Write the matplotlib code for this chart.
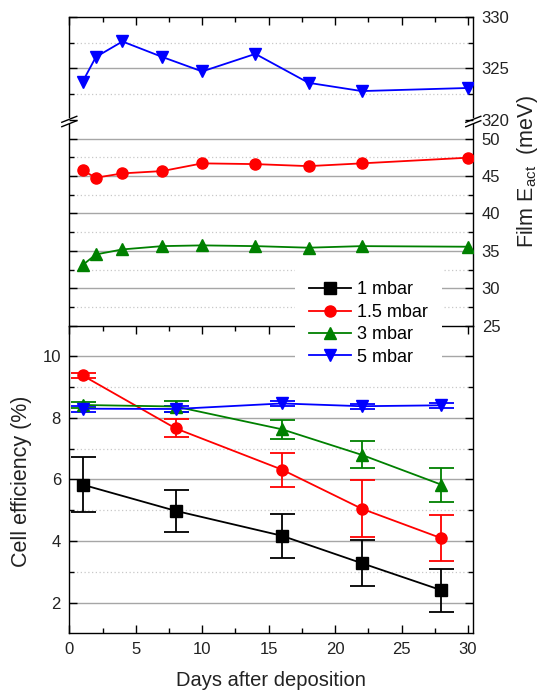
import matplotlib
matplotlib.use("Agg")
import matplotlib.pyplot as plt
from matplotlib.lines import Line2D
from matplotlib.ticker import MultipleLocator, FixedLocator

plt.rcParams['font.family'] = ['Liberation Sans', 'DejaVu Sans']
plt.rcParams['mathtext.fontset'] = 'custom'
plt.rcParams['mathtext.rm'] = 'Liberation Sans'
plt.rcParams['mathtext.it'] = 'Liberation Sans:italic'

# ---- data -------------------------------------------------------------
labels = ['1 mbar', '1.5 mbar', '3 mbar', '5 mbar']
colors = ['#000000', '#ff0000', '#008000', '#0000ff']
markers = ['s', 'o', '^', 'v']

# Cell efficiency (%) vs days after deposition
days_eff = [1, 8, 16, 22, 28]
eff_1 = [5.83, 4.98, 4.17, 3.28, 2.40]
err_1 = [0.90, 0.69, 0.71, 0.74, 0.70]
eff_15 = [9.38, 7.66, 6.32, 5.05, 4.09]
err_15 = [0.09, 0.29, 0.55, 0.93, 0.74]
eff_3 = [8.42, 8.37, 7.63, 6.80, 5.83]
err_3 = [0.10, 0.18, 0.30, 0.44, 0.55]
eff_5 = [8.30, 8.29, 8.47, 8.38, 8.41]
err_5 = [0.10, 0.10, 0.08, 0.08, 0.08]

# Film activation energy (meV) vs days after deposition
days_ea = [1, 2, 4, 7, 10, 14, 18, 22, 30]
ea_15 = [45.76, 44.78, 45.36, 45.67, 46.70, 46.60, 46.33, 46.70, 47.46]
ea_3 = [33.09, 34.52, 35.19, 35.63, 35.73, 35.63, 35.42, 35.63, 35.55]
ea_5 = [323.7, 326.1, 327.6, 326.1, 324.7, 326.4, 323.6, 322.8, 323.1]

# ---- figure layout (pixel boxes, measured from the top-left) ----------
W, H = 541, 696
fig = plt.figure(figsize=(W / 100, H / 100), dpi=100)


def box(x0, y0, x1, y1):
    return [x0 / W, 1 - y1 / H, (x1 - x0) / W, (y1 - y0) / H]


L, R = 69.3, 473.3
ax_eff = fig.add_axes(box(L, 325.6, R, 633.3))
ax_mid = fig.add_axes(box(L, 120.0, R, 325.6))
ax_top = fig.add_axes(box(L, 16.7, R, 120.0))

tick_color = '#222222'
for ax in (ax_eff, ax_mid, ax_top):
    ax.set_xlim(0, 30.4)
    ax.xaxis.set_major_locator(MultipleLocator(5))
    ax.xaxis.set_minor_locator(MultipleLocator(2.5))
    ax.tick_params(which='both', direction='in', width=1.0,
                   labelsize=12, pad=6, labelcolor=tick_color)
    ax.tick_params(which='major', length=6)
    ax.tick_params(which='minor', length=3.5)
    for sp in ax.spines.values():
        sp.set_linewidth(1.0)

major_grid = dict(color='#a6a6a6', lw=1.0, zorder=0.5)
minor_grid = dict(color='#c8c8c8', lw=0.9, ls=(0, (1, 2)), zorder=0.5)

# ---- bottom panel: cell efficiency -------------------------------------
ax_eff.set_ylim(1, 11)
eff_major = [2, 4, 6, 8, 10]
eff_minor = [3, 5, 7, 9]
ax_eff.yaxis.set_major_locator(FixedLocator(eff_major))
ax_eff.yaxis.set_minor_locator(FixedLocator(eff_minor))
ax_eff.tick_params(axis='x', which='both', top=True, bottom=True)
ax_eff.tick_params(axis='y', which='both', left=True, right=True)
for v in eff_major:
    ax_eff.axhline(v, **major_grid)
for v in eff_minor:
    ax_eff.axhline(v, **minor_grid)

handles = []
for y, e, c, m in zip([eff_1, eff_15, eff_3, eff_5],
                      [err_1, err_15, err_3, err_5], colors, markers):
    cont = ax_eff.errorbar(days_eff, y, yerr=e, color=c, marker=m, ms=8,
                           mec=c, mfc=c, lw=1.3, elinewidth=1.3,
                           capsize=9, capthick=1.3, zorder=3)
    handles.append(cont[0])

# ---- middle panel: activation energy 25-52.5 meV -----------------------
ax_mid.set_ylim(25, 52.5)
mid_major = [25, 30, 35, 40, 45, 50]
mid_minor = [27.5, 32.5, 37.5, 42.5, 47.5]
ax_mid.yaxis.set_major_locator(FixedLocator(mid_major))
ax_mid.yaxis.set_minor_locator(FixedLocator(mid_minor))
ax_mid.tick_params(axis='x', which='both', bottom=False, top=False,
                   labelbottom=False)
ax_mid.tick_params(axis='y', which='both', left=True, right=True,
                   labelleft=False, labelright=True)
ax_mid.spines['top'].set_visible(False)
ax_mid.spines['bottom'].set_visible(False)
ax_mid.spines['left'].set_bounds(25, 51.96)
ax_mid.spines['right'].set_bounds(25, 51.96)
ax_mid.patch.set_visible(False)
for v in mid_major[1:]:
    ax_mid.axhline(v, **major_grid)
for v in mid_minor:
    ax_mid.axhline(v, **minor_grid)

ax_mid.plot(days_ea, ea_15, color=colors[1], marker=markers[1], ms=8,
            lw=1.3, zorder=3)
ax_mid.plot(days_ea, ea_3, color=colors[2], marker=markers[2], ms=8,
            lw=1.3, zorder=3)

# ---- top panel: activation energy 320-330 meV --------------------------
ax_top.set_ylim(320, 330)
top_major = [320, 325, 330]
top_minor = [322.5, 327.5]
ax_top.yaxis.set_major_locator(FixedLocator(top_major))
ax_top.yaxis.set_minor_locator(FixedLocator(top_minor))
ax_top.tick_params(axis='x', which='both', bottom=False, top=True,
                   labelbottom=False)
ax_top.tick_params(axis='y', which='both', left=True, right=True,
                   labelleft=False, labelright=True)
ax_top.spines['bottom'].set_visible(False)
ax_top.spines['left'].set_bounds(320.3, 330)
ax_top.spines['right'].set_bounds(320.3, 330)
ax_top.patch.set_visible(False)
ax_top.axhline(325, **major_grid)
for v in top_minor:
    ax_top.axhline(v, **minor_grid)

ax_top.plot(days_ea, ea_5, color=colors[3], marker=markers[3], ms=8,
            lw=1.3, zorder=3)

# axis-break marks on both vertical spines
for cx in (L, R):
    cy = 121.5
    for off in (-2.2, 2.2):
        xs = [(cx - 7.5) / W, (cx + 7.5) / W]
        ys = [1 - (cy + off + 3) / H, 1 - (cy + off - 3) / H]
        fig.add_artist(Line2D(xs, ys, color='black', lw=1.0,
                              transform=fig.transFigure))

# ---- legend and axis titles --------------------------------------------
fig.legend(handles, labels, loc='upper left',
           bbox_to_anchor=(295 / W, 1 - 267 / H),
           bbox_transform=fig.transFigure, frameon=True, facecolor='white',
           edgecolor='none', framealpha=1, fancybox=False, fontsize=13,
           handlelength=2.31, handletextpad=0.33, labelspacing=0.3,
           borderpad=0.8, borderaxespad=0)

fig.text(271 / W, 1 - 681 / H, 'Days after deposition', ha='center',
         va='center', fontsize=14.5, color=tick_color)
fig.text(22 / W, 1 - 481.5 / H, 'Cell efficiency (%)', rotation=90,
         ha='center', va='center', fontsize=15.5, color=tick_color)
fig.text(528 / W, 1 - 172 / H, r'Film E$_{\mathrm{act}}$  (meV)',
         rotation=90, ha='center', va='center', fontsize=15.5,
         color=tick_color)

fig.savefig('out.png', dpi=100)
